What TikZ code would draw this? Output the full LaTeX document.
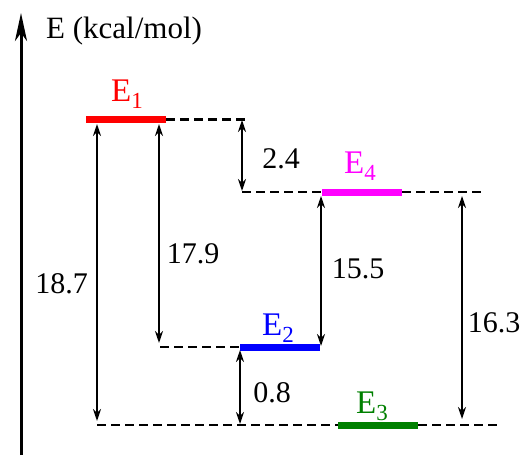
\documentclass[tikz,border=0pt]{standalone}
\usepackage{fontspec}
\setmainfont{Liberation Serif}
\usetikzlibrary{arrows.meta}
\definecolor{egreen}{RGB}{0,128,0}
\definecolor{emag}{RGB}{255,0,255}
\definecolor{ered}{RGB}{255,0,0}
\definecolor{eblue}{RGB}{0,0,255}
\newcommand{\lvlsub}[1]{\raisebox{-7pt}{\fontsize{23}{25}\selectfont #1}}
\tikzset{
  lvl/.style={line width=7pt},
  dash line/.style={line width=2.5pt, dash pattern=on 9pt off 5pt},
  dbl/.style={line width=2pt, {Stealth[length=12pt,width=8pt]}-{Stealth[length=12pt,width=8pt]}},
  lab/.style={font=\fontsize{30}{32}\selectfont, inner sep=0pt, anchor=base},
  elab/.style={font=\fontsize{33}{35}\selectfont, inner sep=0pt, anchor=base west},
}
\begin{document}
\begin{tikzpicture}[x=1pt,y=-1pt]
\useasboundingbox (0,0) rectangle (526,455);
% axis
\coordinate (ax0) at (21,455);
\coordinate (ax1) at (21,13);
\draw[line width=3pt, -{Stealth[length=28pt,width=12pt,inset=8pt]}] (ax0) -- (ax1);
\node[inner sep=0pt, anchor=base west, font=\fontsize{31}{33}\selectfont] (axl) at (46,38) {E (kcal/mol)};
% levels
\coordinate (e1a) at (86,119.5);  \coordinate (e1b) at (166,119.5);
\coordinate (e4a) at (322,192);   \coordinate (e4b) at (402,192);
\coordinate (e2a) at (240,347);   \coordinate (e2b) at (320,347);
\coordinate (e3a) at (338,425);   \coordinate (e3b) at (418,425);
\draw[lvl, ered] (e1a) -- (e1b);
\draw[lvl, emag] (e4a) -- (e4b);
\draw[lvl, eblue] (e2a) -- (e2b);
\draw[lvl, egreen] (e3a) -- (e3b);
% dashed extensions
\coordinate (d1) at (246,119.5);
\coordinate (d4a) at (242,192);  \coordinate (d4b) at (483,192);
\coordinate (d2) at (160,347);
\coordinate (d3a) at (97,425);   \coordinate (d3b) at (498,425);
\draw[dash line] (e1b) -- (d1);
\draw[dash line] (d4a) -- (e4a);
\draw[dash line] (e4b) -- (d4b);
\draw[dash line] (d2) -- (e2a);
\draw[dash line] (d3a) -- (e3a);
\draw[dash line] (e3b) -- (d3b);
% labels of levels
\node[elab, text=ered] (l1) at (111,101) {E\lvlsub{1}};
\node[elab, text=emag] (l4) at (344,173) {E\lvlsub{4}};
\node[elab, text=eblue] (l2) at (262,335) {E\lvlsub{2}};
\node[elab, text=egreen] (l3) at (356,413) {E\lvlsub{3}};
% arrows
\coordinate (a1t) at (97,124);   \coordinate (a1b) at (97,421);
\coordinate (a2t) at (159,124);  \coordinate (a2b) at (159,343);
\coordinate (a3t) at (242,120);  \coordinate (a3b) at (242,191);
\coordinate (a4t) at (321,196);  \coordinate (a4b) at (321,346);
\coordinate (a5t) at (240,350);  \coordinate (a5b) at (240,424);
\coordinate (a6t) at (462,196);  \coordinate (a6b) at (462,419);
\draw[dbl] (a1t) -- (a1b);
\draw[dbl] (a2t) -- (a2b);
\draw[dbl] (a3t) -- (a3b);
\draw[dbl] (a4t) -- (a4b);
\draw[dbl] (a5t) -- (a5b);
\draw[dbl] (a6t) -- (a6b);
% values
\node[lab] (v1) at (61.5,293) {18.7};
\node[lab] (v2) at (193,263) {17.9};
\node[lab] (v3) at (281,168) {2.4};
\node[lab] (v4) at (358,278) {15.5};
\node[lab] (v5) at (272,402) {0.8};
\node[lab] (v6) at (494,332) {16.3};
\end{tikzpicture}
\end{document}
